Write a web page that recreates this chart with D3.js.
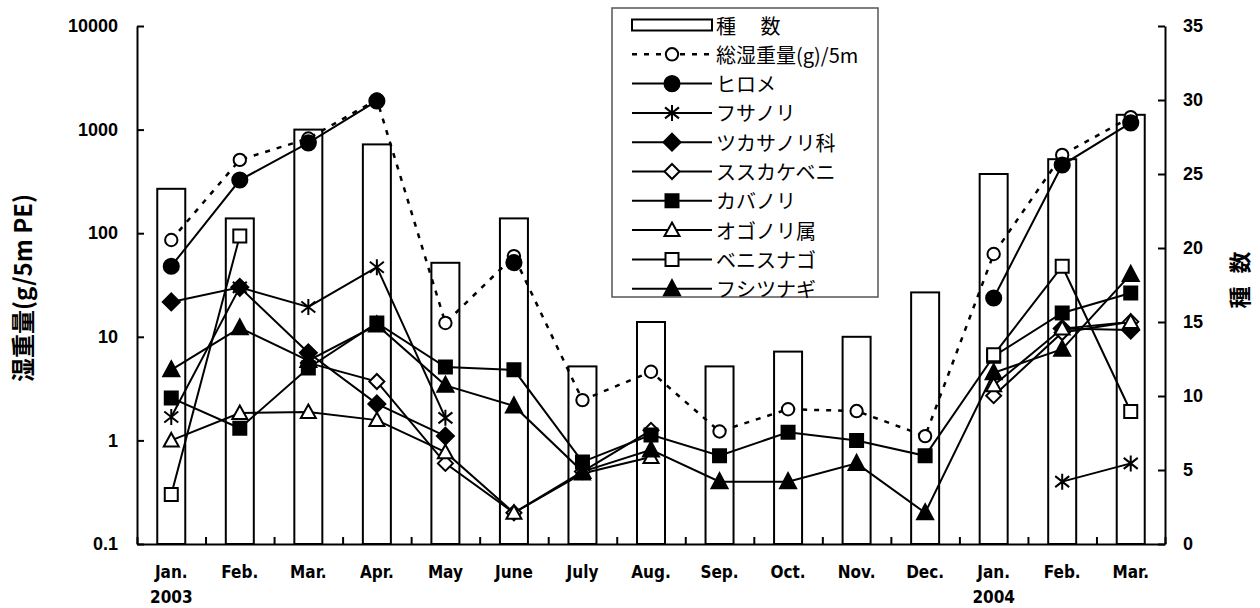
<!DOCTYPE html>
<html><head><meta charset="utf-8">
<script src="https://cdn.jsdelivr.net/npm/d3@7"></script>
<style>body{margin:0;background:#fff}svg{display:block}</style>
</head><body><svg id="c" width="1260" height="608"></svg>
<script>
// ---------- data ----------
const months = ["Jan.","Feb.","Mar.","Apr.","May","June","July","Aug.","Sep.","Oct.","Nov.","Dec.","Jan.","Feb.","Mar."];
const years  = ["2003","","","","","","","","","","","","2004","",""];
const leftTickValues = [0.1, 1, 10, 100, 1000, 10000];
const leftTickLabels = ["0.1","1","10","100","1000","10000"];
const rightTickValues = [0,5,10,15,20,25,30,35];
const rightTickLabels = ["0","5","10","15","20","25","30","35"];

const speciesCount = [24,22,28,27,19,22,12,15,12,13,14,17,25,26,29];
const totalWeight  = [86,510,820,1950,13.6,60,2.45,4.6,1.22,2.0,1.92,1.1,63,570,1320];
const hirome       = [48,326,745,1890,null,52,null,null,null,null,null,null,23.7,455,1160];
const fusanori     = [1.68,30,19.4,47,1.65,null,null,null,null,null,null,null,null,0.4,0.6];
const tsukasanori  = [21.7,30,7.0,2.25,1.1,null,null,null,null,null,null,null,null,12,11.6];
const susukakebeni = [null,null,5.6,3.7,0.6,0.2,0.5,1.25,null,null,null,null,2.7,11,14];
const kabanori     = [2.57,1.31,5.0,13.6,5.1,4.8,0.62,1.13,0.71,1.2,1.0,0.71,6.5,17,26.5];
const ogonori      = [1.0,1.84,1.88,1.57,0.77,0.2,0.48,0.69,null,null,null,null,3.4,12,13.9];
const benisunago   = [0.3,94,null,null,null,null,null,null,null,null,null,null,6.7,48,1.9];
const fushitsunagi = [4.8,12.2,5.9,13,3.4,2.15,0.5,0.81,0.4,0.4,0.6,0.2,4.5,7.6,40];

const barName = "種\u3000 数";
const seriesNames = ["総湿重量(g)/5m","ヒロメ","フサノリ","ツカサノリ科","ススカケベニ","カバノリ","オゴノリ属","ベニスナゴ","フシツナギ"];
const seriesValues = [totalWeight,hirome,fusanori,tsukasanori,susukakebeni,kabanori,ogonori,benisunago,fushitsunagi];
const seriesMarkers = ["circleOpen","circle","asterisk","diamond","diamondOpen","square","triangleOpen","squareOpen","triangle"];
const leftTitle = "湿重量(g/5m PE)";
const rightTitle = "種 数";

// ---------- layout ----------
const svg = d3.select("#c");
const L = 137, R = 1165, T = 26, B = 544;
const x = d3.scaleBand().domain(d3.range(months.length)).range([L, R]);
const cx = i => x(i) + x.bandwidth() / 2;
const xb = d3.scaleLinear().domain([0, months.length]).range([L, R]);
const yL = d3.scaleLog().domain([0.1, 10000]).range([B, T]);
const yR = d3.scaleLinear().domain([0, 35]).range([B, T]);

svg.append("rect").attr("width",1260).attr("height",608).attr("fill","#fff");

// bars
svg.append("g").selectAll("rect").data(speciesCount).join("rect")
  .attr("x", (d,i) => cx(i) - 14).attr("width", 28)
  .attr("y", d => yR(d)).attr("height", d => B - yR(d))
  .attr("fill", "#fff").attr("stroke", "#000").attr("stroke-width", 2);

// axes
const numFont = "'Liberation Sans', Arial, sans-serif";
const catFont = "'Liberation Sans Narrow', 'DejaVu Sans Condensed', 'Liberation Sans', sans-serif";
function styleAxis(g){
  g.selectAll("path.domain").attr("stroke","#000").attr("stroke-width",2);
  g.selectAll(".tick line").attr("stroke","#000").attr("stroke-width",2);
  g.selectAll("text").attr("fill","#000");
}
const gL = svg.append("g").attr("transform",`translate(${L},0)`)
  .call(d3.axisLeft(yL).tickValues(leftTickValues)
    .tickFormat((d,i) => leftTickLabels[i]).tickSizeInner(-7).tickSizeOuter(0).tickPadding(19));
gL.selectAll("text").attr("font-family",numFont).attr("font-weight","bold").attr("font-size",18);
styleAxis(gL);

const gR = svg.append("g").attr("transform",`translate(${R},0)`)
  .call(d3.axisRight(yR).tickValues(rightTickValues)
    .tickFormat((d,i) => rightTickLabels[i]).tickSizeInner(-7).tickSizeOuter(0).tickPadding(18));
gR.selectAll("text").attr("font-family",numFont).attr("font-weight","bold").attr("font-size",18);
styleAxis(gR);

const gB = svg.append("g").attr("transform",`translate(0,${B})`)
  .call(d3.axisBottom(xb).tickValues(d3.range(months.length+1)).tickFormat("").tickSizeInner(-7).tickSizeOuter(0));
styleAxis(gB);

const gBL = svg.append("g").attr("transform",`translate(0,${B})`)
  .call(d3.axisBottom(x).tickFormat(i => months[i]).tickSize(0).tickPadding(22));
gBL.select("path.domain").remove();
gBL.selectAll("text").attr("font-family",catFont)
  .attr("font-weight","bold").attr("font-size",17).attr("fill","#000");
gBL.selectAll(".tick").append("text")
  .text(i => years[i]).attr("y", 59).attr("text-anchor","middle")
  .attr("font-family",catFont)
  .attr("font-weight","bold").attr("font-size",17).attr("fill","#000");

// axis titles
svg.append("text").attr("transform","translate(32,288) rotate(-90)")
  .attr("text-anchor","middle").attr("font-family","'Noto Sans CJK JP', sans-serif")
  .attr("font-weight","bold").attr("font-size",24).text(leftTitle);
svg.append("text").attr("transform","translate(1238,280) rotate(-90)")
  .attr("text-anchor","middle").attr("dominant-baseline","central")
  .attr("font-family","'Noto Sans CJK JP', sans-serif")
  .attr("font-weight","bold").attr("font-size",22).attr("word-spacing",8).text(rightTitle);

// marker paths
function markerPath(type){
  const t = type.replace("Open","");
  if (t === "circle") return type === "circle" ? d3.symbol(d3.symbolCircle, 180)() : d3.symbol(d3.symbolCircle, 120)();
  if (t === "square") return "M-6.5,-6.5H6.5V6.5H-6.5Z";
  if (t === "diamond") return type === "diamond" ? "M0,-8.5L8.5,0L0,8.5L-8.5,0Z" : "M0,-7.5L7.5,0L0,7.5L-7.5,0Z";
  if (t === "triangle") return type === "triangle" ? "M0,-8.5L8,6.5L-8,6.5Z" : "M0,-7.5L7.5,6L-7.5,6Z";
  if (t === "asterisk") return "M0,-8V8M-7,-5.5L7,5.5M-7,5.5L7,-5.5";
  return "";
}
function drawMarker(sel, type){
  const open = type.endsWith("Open");
  const ast = type === "asterisk";
  sel.attr("d", markerPath(type))
    .attr("fill", ast ? "none" : (open ? "#fff" : "#000"))
    .attr("stroke", "#000").attr("stroke-width", 2);
}

// lines
const line = d3.line().defined(d => d.v != null).x(d => cx(d.i)).y(d => yL(d.v));
const gLines = svg.append("g");
seriesValues.forEach((vals, s) => {
  const pts = vals.map((v,i) => ({v, i}));
  gLines.append("path").attr("d", line(pts)).attr("fill","none").attr("stroke","#000")
    .attr("stroke-width", s === 0 ? 2.5 : 2)
    .attr("stroke-dasharray", s === 0 ? "5,7" : null);
});
// markers
const drawOrder = [0,1,2,3,4,6,8,5,7];
const gMarks = svg.append("g");
drawOrder.forEach(s => {
  const pts = seriesValues[s].map((v,i) => ({v, i})).filter(d => d.v != null);
  gMarks.append("g").selectAll("path").data(pts).join("path")
    .attr("transform", d => `translate(${cx(d.i)},${yL(d.v)})`)
    .call(drawMarker, seriesMarkers[s]);
});

// legend
const lg = svg.append("g").attr("transform","translate(612,8)");
lg.append("rect").attr("width",266).attr("height",289).attr("fill","#fff")
  .attr("stroke","#555").attr("stroke-width",1.5);
const rowY = k => 17 + k * 29.3;
const legFont = "'Noto Sans CJK JP', sans-serif";
lg.append("rect").attr("x",20).attr("y",rowY(0)-5.5).attr("width",80).attr("height",11)
  .attr("fill","#fff").attr("stroke","#000").attr("stroke-width",2);
lg.append("text").attr("x",104).attr("y",rowY(0)).attr("dominant-baseline","central")
  .attr("font-family",legFont).attr("font-size",20).text(barName);
seriesNames.forEach((nm, s) => {
  const yy = rowY(s + 1);
  lg.append("line").attr("x1",20).attr("x2",100).attr("y1",yy).attr("y2",yy)
    .attr("stroke","#000").attr("stroke-width", s === 0 ? 2.5 : 2)
    .attr("stroke-dasharray", s === 0 ? "5,7" : null);
  lg.append("path").attr("transform",`translate(60,${yy})`).call(drawMarker, seriesMarkers[s]);
  lg.append("text").attr("x",104).attr("y",yy).attr("dominant-baseline","central")
    .attr("font-family",legFont).attr("font-size",20).text(nm);
});
</script></body></html>
